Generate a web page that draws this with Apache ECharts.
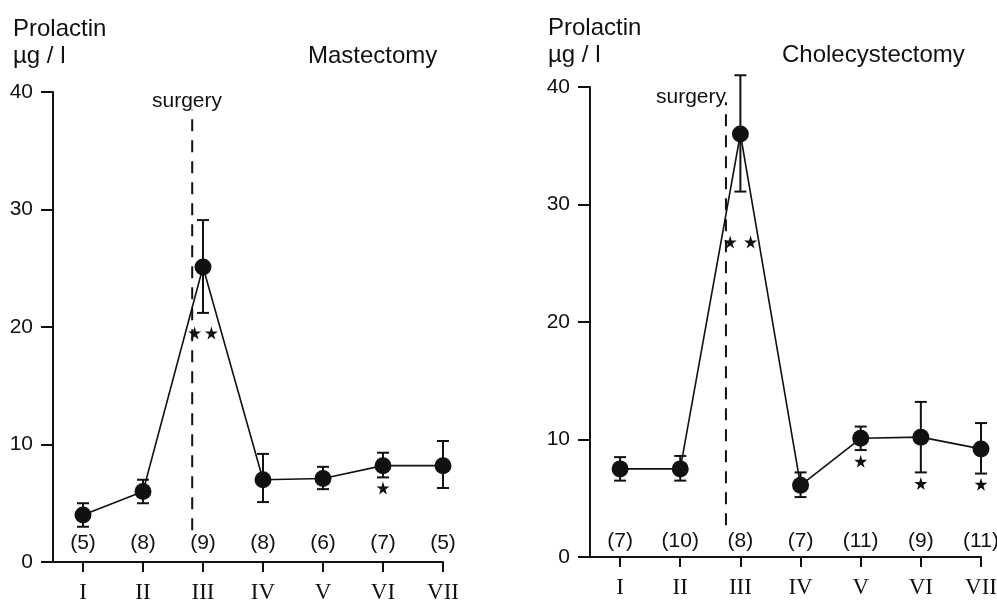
<!DOCTYPE html>
<html><head><meta charset="utf-8">
<script src="https://cdn.jsdelivr.net/npm/echarts@6/dist/echarts.min.js"></script>
<style>html,body{margin:0;background:#fff}#c{width:997px;height:600px}</style>
</head><body><div id="c"></div>
<script>
// ---- data ----
const phases = [1, 2, 3, 4, 5, 6, 7];
const phaseLabels = ['I', 'II', 'III', 'IV', 'V', 'VI', 'VII'];
// Mastectomy
const mastMean = [4.0, 6.0, 25.1, 7.0, 7.1, 8.2, 8.2];
const mastLow  = [3.0, 5.0, 21.2, 5.1, 6.2, 7.2, 6.3];
const mastHigh = [5.0, 7.0, 29.1, 9.2, 8.1, 9.3, 10.3];
const mastN = ['(5)', '(8)', '(9)', '(8)', '(6)', '(7)', '(5)'];
const mastStars = [[2.86, 19.5], [3.14, 19.5], [6, 6.3]];
const mastSurgeryX = 2.82;
const mastSurgerySpan = [2.7, 38.5];
// Cholecystectomy
const cholMean = [7.5, 7.5, 36.0, 6.1, 10.1, 10.2, 9.2];
const cholLow  = [6.5, 6.5, 31.1, 5.1, 9.1, 7.2, 7.1];
const cholHigh = [8.5, 8.6, 41.0, 7.2, 11.1, 13.2, 11.4];
const cholN = ['(7)', '(10)', '(8)', '(7)', '(11)', '(9)', '(11)'];
const cholStars = [[2.83, 26.8], [3.17, 26.8], [5, 8.15], [6, 6.25], [7, 6.2]];
const cholSurgeryX = 2.76;
const cholSurgerySpan = [2.7, 38.7];
const nLabelY = [1.6, 1.35];

// ---- chart ----
const INK = '#111';
const SANS = '"Liberation Sans", Arial, sans-serif';
const SERIF = '"Liberation Serif", "Times New Roman", serif';
const STAR = 'path://M50,0 L61,35 L98,35 L68,57 L79,91 L50,70 L21,91 L32,57 L2,35 L39,35 Z';

function xAxisCfg(gi) {
  return {
    type: 'value', gridIndex: gi, min: 0.5, max: 7,
    splitLine: { show: false },
    axisLine: { show: true, lineStyle: { color: INK, width: 2 } },
    axisTick: { show: true, length: 10, customValues: phases, lineStyle: { color: INK, width: 2 } },
    axisLabel: {
      customValues: phases, margin: 19, color: INK, fontFamily: SERIF, fontSize: 23,
      formatter: v => phaseLabels[Math.round(v) - 1] || ''
    }
  };
}
function yAxisCfg(gi) {
  return {
    type: 'value', gridIndex: gi, min: 0, max: 40, interval: 10,
    splitLine: { show: false },
    axisLine: { show: true, lineStyle: { color: INK, width: 2 } },
    axisTick: { show: true, length: 12, lineStyle: { color: INK, width: 2 } },
    axisLabel: { margin: 20, color: INK, fontFamily: SANS, fontSize: 21 }
  };
}
function errSeries(gi, low, high) {
  return {
    type: 'custom', xAxisIndex: gi, yAxisIndex: gi, clip: false, z: 3,
    data: phases.map((p, i) => [p, low[i], high[i]]),
    renderItem: (params, api) => {
      const a = api.coord([api.value(0), api.value(1)]);
      const b = api.coord([api.value(0), api.value(2)]);
      const w = 6;
      const st = { stroke: INK, lineWidth: 2 };
      return { type: 'group', children: [
        { type: 'line', shape: { x1: a[0], y1: a[1], x2: b[0], y2: b[1] }, style: st },
        { type: 'line', shape: { x1: a[0] - w, y1: a[1], x2: a[0] + w, y2: a[1] }, style: st },
        { type: 'line', shape: { x1: b[0] - w, y1: b[1], x2: b[0] + w, y2: b[1] }, style: st }
      ]};
    }
  };
}
function panelSeries(gi, mean, low, high, nLab, stars, sx, span) {
  return [
    {
      type: 'line', xAxisIndex: gi, yAxisIndex: gi, z: 4,
      data: phases.map((p, i) => [p, mean[i]]),
      symbol: 'circle', symbolSize: 17,
      lineStyle: { color: INK, width: 1.6 }, itemStyle: { color: INK, opacity: 1 }
    },
    errSeries(gi, low, high),
    {
      type: 'scatter', xAxisIndex: gi, yAxisIndex: gi, z: 5,
      data: stars, symbol: STAR, symbolSize: 13, itemStyle: { color: INK, opacity: 1 }
    },
    {
      type: 'scatter', xAxisIndex: gi, yAxisIndex: gi, z: 5, symbolSize: 0,
      itemStyle: { opacity: 1 },
      data: phases.map((p, i) => [p, nLabelY[gi], nLab[i]]),
      label: { show: true, position: 'inside', color: INK, fontFamily: SANS, fontSize: 21,
        formatter: p => p.data[2] }
    },
    {
      type: 'line', xAxisIndex: gi, yAxisIndex: gi, z: 2, symbol: 'none',
      data: [[sx, span[0]], [sx, span[1]]],
      lineStyle: { color: INK, width: 2, type: [12, 9] }
    }
  ];
}

const tStyle = (size) => ({ color: INK, fontFamily: SANS, fontSize: size, fontWeight: 'normal', lineHeight: 27 });
const chart = echarts.init(document.getElementById('c'), null, { renderer: 'canvas' });
chart.setOption({
  animation: false,
  backgroundColor: '#fff',
  title: [
    { text: 'Prolactin\nµg / l', left: 8, top: 11, textStyle: tStyle(24) },
    { text: 'Mastectomy', left: 303, top: 38, textStyle: tStyle(24) },
    { text: 'surgery', left: 147, top: 86, textStyle: Object.assign(tStyle(21), { lineHeight: 21 }) },
    { text: 'Prolactin\nµg / l', left: 543, top: 10, textStyle: tStyle(24) },
    { text: 'Cholecystectomy', left: 777, top: 37, textStyle: tStyle(24) },
    { text: 'surgery', left: 651, top: 82, textStyle: Object.assign(tStyle(21), { lineHeight: 21 }) }
  ],
  grid: [
    { left: 53, top: 92, width: 390, height: 470, outerBoundsMode: 'none', containLabel: false },
    { left: 590, top: 87, width: 391, height: 470, outerBoundsMode: 'none', containLabel: false }
  ],
  xAxis: [xAxisCfg(0), xAxisCfg(1)],
  yAxis: [yAxisCfg(0), yAxisCfg(1)],
  series: [
    ...panelSeries(0, mastMean, mastLow, mastHigh, mastN, mastStars, mastSurgeryX, mastSurgerySpan),
    ...panelSeries(1, cholMean, cholLow, cholHigh, cholN, cholStars, cholSurgeryX, cholSurgerySpan)
  ]
});
</script>
</body></html>
